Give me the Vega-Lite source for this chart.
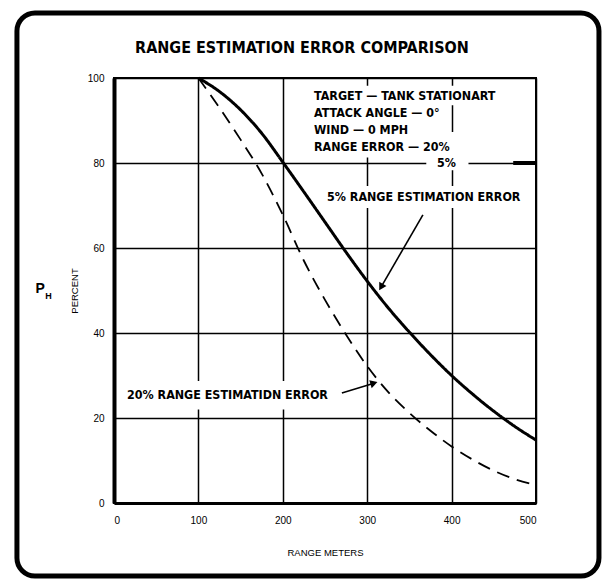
{
  "$schema": "https://vega.github.io/schema/vega-lite/v6.json",
  "width": 422,
  "height": 425,
  "autosize": {"type": "none"},
  "padding": {"left": 114, "top": 78, "right": 69, "bottom": 79},
  "background": "white",
  "config": {
    "view": {"stroke": "black", "strokeWidth": 2},
    "axis": {
      "grid": true,
      "gridColor": "black",
      "gridWidth": 1.5,
      "gridOpacity": 1,
      "ticks": false,
      "domainColor": "black",
      "labelFont": "Liberation Sans",
      "labelFontSize": 10,
      "labelColor": "black",
      "titleFont": "Liberation Sans",
      "titleFontSize": 9.5,
      "titleFontWeight": "normal",
      "titleColor": "black"
    }
  },
  "datasets": {
    "curves": [
      {"range": 100, "pct": 100, "series": "5%"},
      {"range": 125, "pct": 96.8, "series": "5%"},
      {"range": 150, "pct": 92.5, "series": "5%"},
      {"range": 175, "pct": 87, "series": "5%"},
      {"range": 200, "pct": 80.2, "series": "5%"},
      {"range": 225, "pct": 73.2, "series": "5%"},
      {"range": 250, "pct": 66.1, "series": "5%"},
      {"range": 275, "pct": 59, "series": "5%"},
      {"range": 300, "pct": 52.2, "series": "5%"},
      {"range": 325, "pct": 45.9, "series": "5%"},
      {"range": 350, "pct": 40.2, "series": "5%"},
      {"range": 375, "pct": 34.9, "series": "5%"},
      {"range": 400, "pct": 30, "series": "5%"},
      {"range": 425, "pct": 25.6, "series": "5%"},
      {"range": 450, "pct": 21.6, "series": "5%"},
      {"range": 475, "pct": 18, "series": "5%"},
      {"range": 500, "pct": 14.8, "series": "5%"},
      {"range": 100, "pct": 100, "series": "20%"},
      {"range": 125, "pct": 93, "series": "20%"},
      {"range": 150, "pct": 85.5, "series": "20%"},
      {"range": 175, "pct": 77.5, "series": "20%"},
      {"range": 200, "pct": 67.8, "series": "20%"},
      {"range": 225, "pct": 57, "series": "20%"},
      {"range": 250, "pct": 47.8, "series": "20%"},
      {"range": 275, "pct": 39.6, "series": "20%"},
      {"range": 300, "pct": 32.2, "series": "20%"},
      {"range": 325, "pct": 26.1, "series": "20%"},
      {"range": 350, "pct": 21.2, "series": "20%"},
      {"range": 375, "pct": 17, "series": "20%"},
      {"range": 400, "pct": 13.3, "series": "20%"},
      {"range": 425, "pct": 10.2, "series": "20%"},
      {"range": 450, "pct": 7.6, "series": "20%"},
      {"range": 475, "pct": 5.6, "series": "20%"},
      {"range": 500, "pct": 4.2, "series": "20%"}
    ],
    "masks": [
      {"x1": 232, "x2": 398, "y1": 98.2, "y2": 81.3},
      {"x1": 398, "x2": 458, "y1": 98.2, "y2": 93.6},
      {"x1": 396, "x2": 404, "y1": 87.3, "y2": 81.3},
      {"x1": 370, "x2": 420, "y1": 82, "y2": 78.3},
      {"x1": 250, "x2": 484, "y1": 74.6, "y2": 69.4},
      {"x1": 13, "x2": 262, "y1": 28.7, "y2": 22}
    ],
    "info": [
      {"x": 237, "y": 95.8, "label": "TARGET — TANK STATIONART"},
      {"x": 237, "y": 91.8, "label": "ATTACK ANGLE — 0°"},
      {"x": 237, "y": 87.8, "label": "WIND — 0 MPH"},
      {"x": 237, "y": 83.8, "label": "RANGE ERROR — 20%"},
      {"x": 382.7, "y": 80.1, "label": "5%"},
      {"x": 252.4, "y": 72, "label": "5% RANGE ESTIMATION ERROR"},
      {"x": 15.4, "y": 25.4, "label": "20% RANGE ESTIMATIDN ERROR"}
    ],
    "arrows": [
      {"x1": 366, "y1": 67.8, "x2": 316.4, "y2": 50.8, "angle": 210},
      {"x1": 270, "y1": 25.9, "x2": 308, "y2": 28.2, "angle": 73}
    ],
    "frame": [
      {"x1": -115, "x2": 574.6, "y1": -17.2, "y2": 115.3}
    ],
    "legendbar": [
      {"x1": 473, "x2": 500, "y": 80}
    ],
    "heading": [
      {"x": 222.7, "y": 105.9, "label": "RANGE ESTIMATION ERROR COMPARISON"}
    ]
  },
  "layer": [
    {
      "data": {"name": "frame"},
      "mark": {"type": "rect", "fill": "transparent", "stroke": "black", "strokeWidth": 5, "cornerRadius": 18, "clip": false},
      "encoding": {
        "x": {"field": "x1", "type": "quantitative", "title": "RANGE METERS", "scale": {"domain": [0, 500], "nice": false}},
        "x2": {"field": "x2"},
        "y": {"field": "y1", "type": "quantitative", "title": "PERCENT", "scale": {"domain": [0, 100], "nice": false}},
        "y2": {"field": "y2"}
      }
    },
    {
      "data": {"name": "masks"},
      "mark": {"type": "rect", "fill": "white", "stroke": null},
      "encoding": {
        "x": {"field": "x1", "type": "quantitative", "title": "RANGE METERS"},
        "x2": {"field": "x2"},
        "y": {"field": "y1", "type": "quantitative", "title": "PERCENT"},
        "y2": {"field": "y2"}
      }
    },
    {
      "data": {"name": "curves"},
      "mark": {"type": "line", "interpolate": "monotone", "color": "black"},
      "encoding": {
        "x": {
          "field": "range", "type": "quantitative", "title": "RANGE METERS",
          "axis": {"values": [0, 100, 200, 300, 400, 500], "labelPadding": 12, "titlePadding": 22, "domainWidth": 3},
          "scale": {"domain": [0, 500], "nice": false}
        },
        "y": {
          "field": "pct", "type": "quantitative", "title": "PERCENT",
          "axis": {"values": [0, 20, 40, 60, 80, 100], "labelPadding": 10, "titlePadding": 8, "domainWidth": 4},
          "scale": {"domain": [0, 100], "nice": false}
        },
        "detail": {"field": "series"},
        "strokeWidth": {"field": "series", "type": "nominal", "scale": {"domain": ["5%", "20%"], "range": [3, 1.8]}, "legend": null},
        "strokeDash": {"field": "series", "type": "nominal", "scale": {"domain": ["5%", "20%"], "range": [[1, 0], [13, 8]]}, "legend": null}
      }
    },
    {
      "data": {"name": "legendbar"},
      "mark": {"type": "rule", "color": "black", "strokeWidth": 4},
      "encoding": {
        "x": {"field": "x1", "type": "quantitative", "title": "RANGE METERS"},
        "x2": {"field": "x2"},
        "y": {"field": "y", "type": "quantitative", "title": "PERCENT"}
      }
    },
    {
      "data": {"name": "arrows"},
      "mark": {"type": "rule", "color": "black", "strokeWidth": 1.6},
      "encoding": {
        "x": {"field": "x1", "type": "quantitative", "title": "RANGE METERS"},
        "x2": {"field": "x2"},
        "y": {"field": "y1", "type": "quantitative", "title": "PERCENT"},
        "y2": {"field": "y2"}
      }
    },
    {
      "data": {"name": "arrows"},
      "mark": {"type": "point", "shape": "triangle-up", "filled": true, "color": "black", "size": 70, "opacity": 1},
      "encoding": {
        "x": {"field": "x2", "type": "quantitative", "title": "RANGE METERS"},
        "y": {"field": "y2", "type": "quantitative", "title": "PERCENT"},
        "angle": {"field": "angle", "type": "quantitative", "scale": null}
      }
    },
    {
      "data": {"name": "info"},
      "mark": {"type": "text", "align": "left", "baseline": "middle", "font": "DejaVu Sans Condensed, Liberation Sans, sans-serif", "fontSize": 12.4, "fontWeight": "bold", "color": "black"},
      "encoding": {
        "x": {"field": "x", "type": "quantitative", "title": "RANGE METERS"},
        "y": {"field": "y", "type": "quantitative", "title": "PERCENT"},
        "text": {"field": "label"}
      }
    },
    {
      "data": {"name": "heading"},
      "mark": {"type": "text", "align": "center", "baseline": "alphabetic", "font": "DejaVu Sans Condensed, Liberation Sans, sans-serif", "fontSize": 16, "fontWeight": "bold", "color": "black", "clip": false},
      "encoding": {
        "x": {"field": "x", "type": "quantitative", "title": "RANGE METERS"},
        "y": {"field": "y", "type": "quantitative", "title": "PERCENT"},
        "text": {"field": "label"}
      }
    },
    {
      "data": {"values": [{"x": -93, "y": 50.3, "label": "P"}]},
      "mark": {"type": "text", "align": "left", "baseline": "middle", "font": "Liberation Sans", "fontSize": 14, "fontWeight": "bold", "color": "black", "clip": false},
      "encoding": {
        "x": {"field": "x", "type": "quantitative", "title": "RANGE METERS"},
        "y": {"field": "y", "type": "quantitative", "title": "PERCENT"},
        "text": {"field": "label"}
      }
    },
    {
      "data": {"values": [{"x": -81.5, "y": 48.8, "label": "H"}]},
      "mark": {"type": "text", "align": "left", "baseline": "middle", "font": "Liberation Sans", "fontSize": 9, "fontWeight": "bold", "color": "black", "clip": false},
      "encoding": {
        "x": {"field": "x", "type": "quantitative", "title": "RANGE METERS"},
        "y": {"field": "y", "type": "quantitative", "title": "PERCENT"},
        "text": {"field": "label"}
      }
    }
  ]
}
